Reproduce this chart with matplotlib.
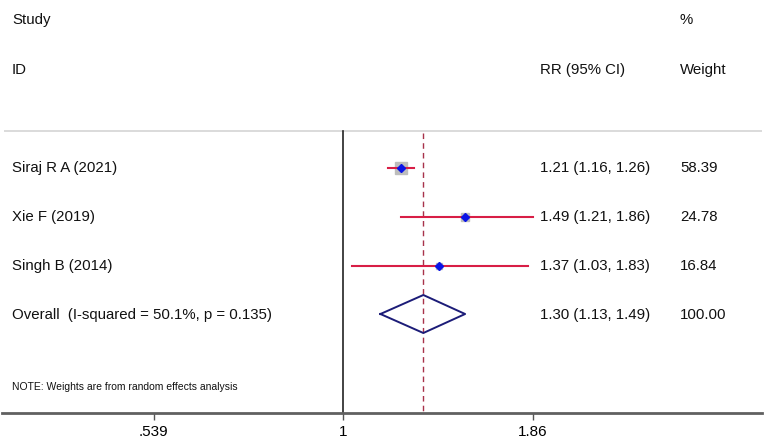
import numpy as np
import matplotlib
matplotlib.use("Agg")
import matplotlib.pyplot as plt
from matplotlib.transforms import blended_transform_factory

studies = ["Siraj R A (2021)", "Xie F (2019)", "Singh B (2014)"]
rr = [1.21, 1.49, 1.37]
lo = [1.16, 1.21, 1.03]
hi = [1.26, 1.86, 1.83]
weights = [58.39, 24.78, 16.84]
overall_label = "Overall  (I-squared = 50.1%, p = 0.135)"
overall = (1.30, 1.13, 1.49)
overall_weight = 100.00
tick_vals = [0.539, 1, 1.86]
tick_labels = [".539", "1", "1.86"]

plt.rcParams['font.family'] = ['Liberation Sans', 'DejaVu Sans']

W, H = 767, 445
fig = plt.figure(figsize=(W / 100, H / 100), dpi=100)
ax = fig.add_axes([0, 0, 1, 1])
ax.set_xscale('log')

ppl = 306.2
x0 = 343
def px2v(px):
    return np.exp((px - x0) / ppl)
ax.set_xlim(px2v(0), px2v(W))
ax.set_ylim(H, 0)

for s in ['top', 'left', 'right']:
    ax.spines[s].set_visible(False)
ax.spines['bottom'].set_position(('data', 413))
ax.spines['bottom'].set_color('#606060')
ax.spines['bottom'].set_linewidth(2)
ax.spines['bottom'].set_bounds(px2v(2), px2v(762))
ax.set_yticks([])
ax.xaxis.set_minor_locator(matplotlib.ticker.NullLocator())
ax.set_xticks(tick_vals)
ax.set_xticklabels(tick_labels, fontsize=11)
ax.tick_params(axis='x', direction='out', length=5, width=1, color='#555555', pad=4)

ax.plot([px2v(4), px2v(762)], [130.5, 130.5], color='#d4d4d4', lw=1.2, solid_capstyle='butt')
ax.plot([1, 1], [131, 413], color='#222222', lw=1.2)
ax.plot([overall[0], overall[0]], [133, 413], color='#a8324a', lw=1.0, dashes=(4, 3))

rows_y = [168, 217, 266]
maxw = max(weights)
for y, r, l, h, w in zip(rows_y, rr, lo, hi, weights):
    size = 8.6 * np.sqrt(w / maxw)
    ax.plot([r], [y], marker='s', ms=size, color='#bdbdbd', mec='#bdbdbd', zorder=2)
    ax.plot([l, h], [y, y], color='#d81e46', lw=1.5, zorder=3)
    ax.plot([r], [y], marker='D', ms=3.8, color='#0a14e6', mec='#0a14e6', zorder=4)

oy = 314
est, olo, ohi = overall
ax.plot([olo, est, ohi, est, olo], [oy, oy - 19, oy, oy + 19, oy], color='#1c1c78', lw=1.4, zorder=4)

tr = blended_transform_factory(ax.transAxes, ax.transData)
fs = 10.8
def T(px, y, s, size=fs):
    ax.text(px / W, y, s, transform=tr, fontsize=size, va='center', ha='left', color='#111111')

T(12, 20, "Study")
T(12, 70, "ID")
T(540, 70, "RR (95% CI)")
T(680, 20, "%")
T(680, 70, "Weight")

for y, name, r, l, h, w in zip(rows_y, studies, rr, lo, hi, weights):
    T(12, y, name)
    T(540, y, f"{r:.2f} ({l:.2f}, {h:.2f})")
    T(680, y, f"{w:.2f}")
T(12, 315, overall_label)
T(540, 315, f"{est:.2f} ({olo:.2f}, {ohi:.2f})")
T(680, 315, f"{overall_weight:.2f}")
T(12, 387, "NOTE: Weights are from random effects analysis", size=7.5)

fig.savefig("out.png", dpi=100)
